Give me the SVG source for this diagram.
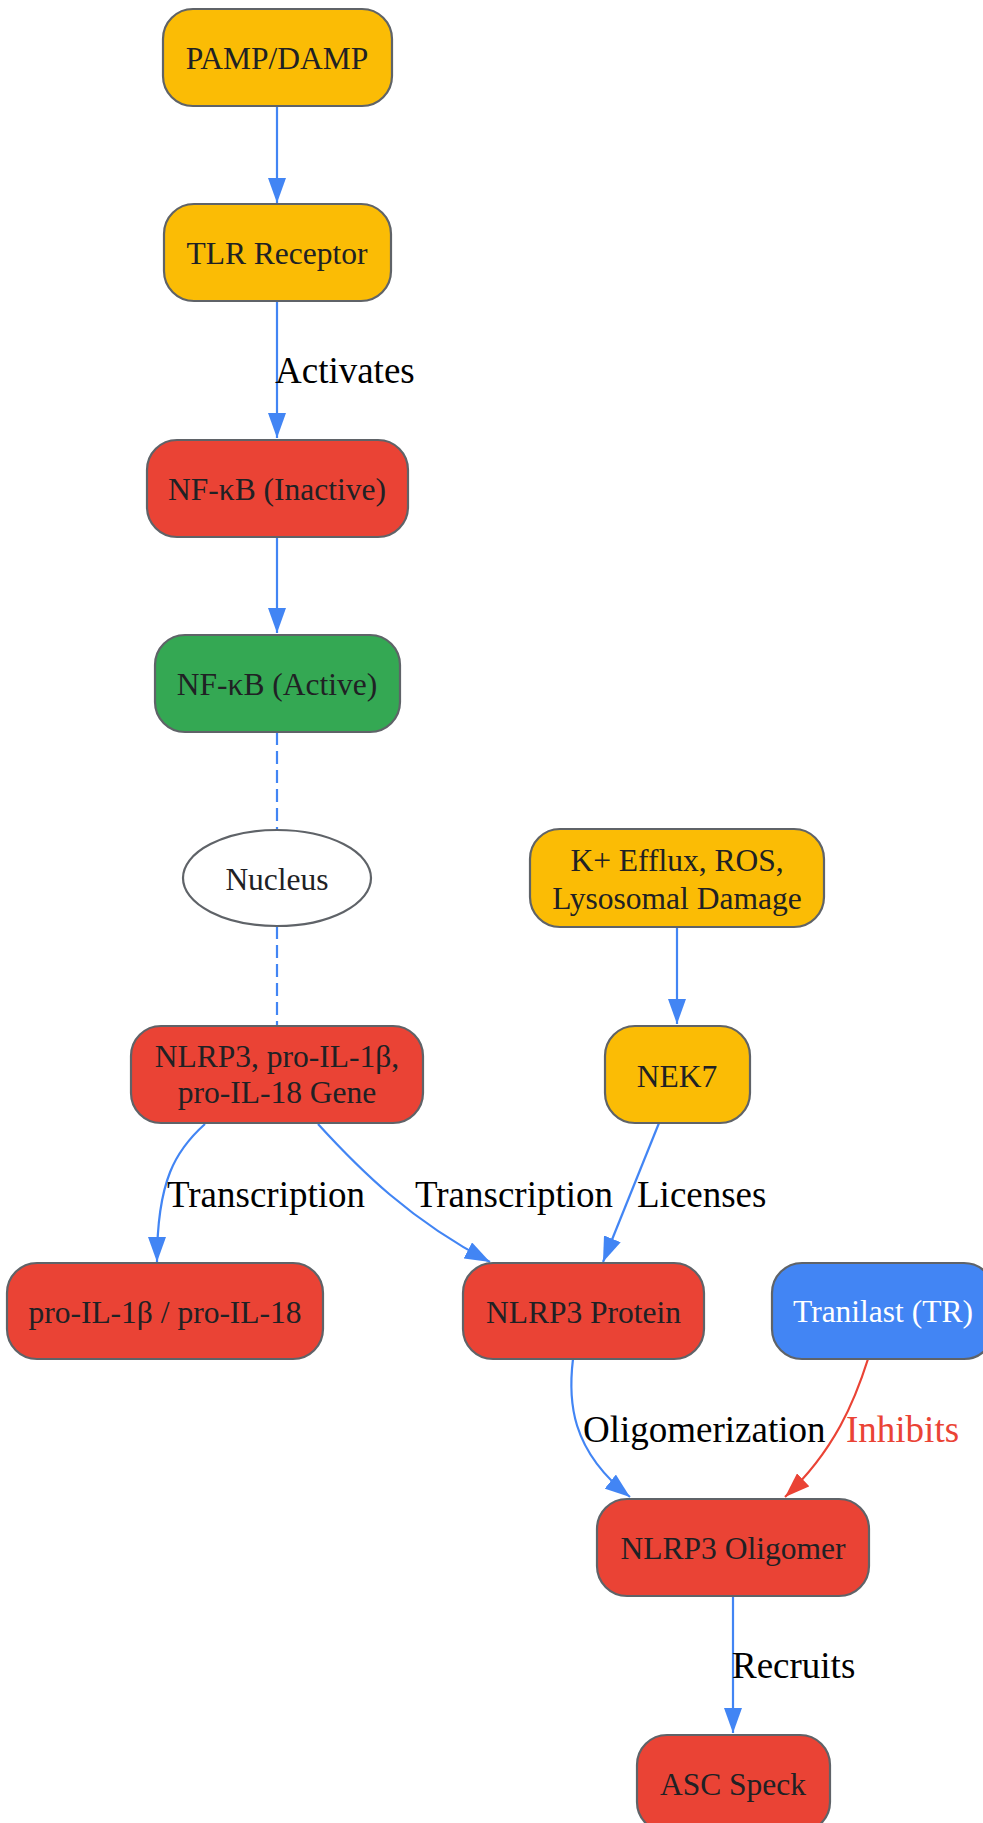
<svg xmlns="http://www.w3.org/2000/svg" width="983" height="1823" viewBox="0 0 983 1823">
<style>
.n{stroke:#5f6368;stroke-width:2.2}
.y{fill:#FBBC05}.r{fill:#EA4335}.g{fill:#34A853}.b{fill:#4285F4}.w{fill:#ffffff}
.t{font-family:"Liberation Serif","Times New Roman",serif;font-size:31.5px;fill:#202124;text-anchor:middle}
.e{fill:none;stroke:#4285F4;stroke-width:2.2}
.er{fill:none;stroke:#EA4335;stroke-width:2.2}
.d{stroke-dasharray:13,6}
.l{font-family:"Liberation Serif","Times New Roman",serif;font-size:37px;fill:#000000}
</style>
<defs>
<marker id="ab" markerUnits="userSpaceOnUse" markerWidth="26" markerHeight="18" refX="25" refY="9" orient="auto"><path d="M0,0 L25,9 L0,18 z" fill="#4285F4"/></marker>
<marker id="ar" markerUnits="userSpaceOnUse" markerWidth="26" markerHeight="18" refX="25" refY="9" orient="auto"><path d="M0,0 L25,9 L0,18 z" fill="#EA4335"/></marker>
</defs>
<rect width="983" height="1823" fill="#ffffff"/>
<g id="connectors">
<path class="e" d="M277,106 L277,203" marker-end="url(#ab)"/>
<path class="e" d="M277,301 L277,438" marker-end="url(#ab)"/>
<path class="e" d="M277,537 L277,633" marker-end="url(#ab)"/>
<path class="e d" d="M277,732 L277,830"/>
<path class="e d" d="M277,926 L277,1025"/>
<path class="e" d="M677,927 L677,1024" marker-end="url(#ab)"/>
<path class="e" d="M205,1124 C176,1150 157,1180 157,1262" marker-end="url(#ab)"/>
<path class="e" d="M318,1124 C360,1170 410,1220 490,1262" marker-end="url(#ab)"/>
<path class="e" d="M659,1123 L603,1262" marker-end="url(#ab)"/>
<path class="e" d="M573,1359 C568,1400 570,1450 630,1497" marker-end="url(#ab)"/>
<path class="er" d="M868,1359 C855,1400 835,1450 785,1497" marker-end="url(#ar)"/>
<path class="e" d="M733,1596 L733,1733" marker-end="url(#ab)"/>
<text class="l" x="275" y="383">Activates</text>
<text class="l" x="167" y="1207">Transcription</text>
<text class="l" x="415" y="1207">Transcription</text>
<text class="l" x="637" y="1207">Licenses</text>
<text class="l" x="583" y="1442">Oligomerization</text>
<text class="l" x="846" y="1442" style="fill:#EA4335">Inhibits</text>
<text class="l" x="732" y="1678">Recruits</text>
</g>
<g id="pamp"><rect class="n y" x="163" y="9" width="229" height="97" rx="30"/><text class="t" x="277" y="69">PAMP/DAMP</text></g>
<g id="tlr"><rect class="n y" x="164" y="204" width="227" height="97" rx="30"/><text class="t" x="277" y="264">TLR Receptor</text></g>
<g id="nfkb_inactive"><rect class="n r" x="147" y="440" width="261" height="97" rx="30"/><text class="t" x="277" y="500">NF-κB (Inactive)</text></g>
<g id="nfkb_active"><rect class="n g" x="155" y="635" width="245" height="97" rx="30"/><text class="t" x="277" y="695">NF-κB (Active)</text></g>
<g id="nucleus"><ellipse class="n w" cx="277" cy="878" rx="94" ry="48"/><text class="t" x="277" y="890">Nucleus</text></g>
<g id="gene"><rect class="n r" x="131" y="1026" width="292" height="97" rx="30"/><text class="t" x="277" y="1067">NLRP3, pro-IL-1β,</text><text class="t" x="277" y="1103">pro-IL-18 Gene</text></g>
<g id="triggers"><rect class="n y" x="530" y="829" width="294" height="98" rx="30"/><text class="t" x="677" y="871">K+ Efflux, ROS,</text><text class="t" x="677" y="909">Lysosomal Damage</text></g>
<g id="nek7"><rect class="n y" x="605" y="1026" width="145" height="97" rx="30"/><text class="t" x="677" y="1087">NEK7</text></g>
<g id="pro_il"><rect class="n r" x="7" y="1263" width="316" height="96" rx="30"/><text class="t" x="165" y="1323">pro-IL-1β / pro-IL-18</text></g>
<g id="nlrp3_protein"><rect class="n r" x="463" y="1263" width="241" height="96" rx="30"/><text class="t" x="583.5" y="1323">NLRP3 Protein</text></g>
<g id="tranilast"><rect class="n b" x="772" y="1263" width="222" height="96" rx="30"/><text class="t" x="883" y="1322" style="fill:#ffffff">Tranilast (TR)</text></g>
<g id="oligomer"><rect class="n r" x="597" y="1499" width="272" height="97" rx="30"/><text class="t" x="733" y="1559">NLRP3 Oligomer</text></g>
<g id="asc"><rect class="n r" x="637" y="1735" width="193" height="97" rx="30"/><text class="t" x="733" y="1795">ASC Speck</text></g>
</svg>
